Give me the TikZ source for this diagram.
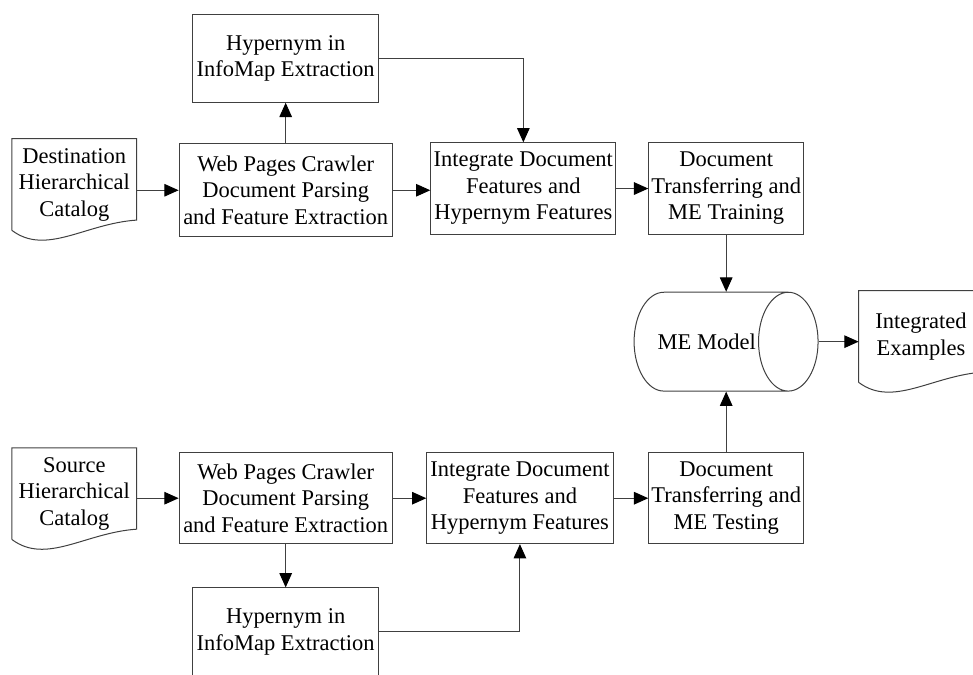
\documentclass[tikz,border=0pt]{standalone}
\usepackage{fontspec}
\setmainfont{Liberation Serif}
\usetikzlibrary{arrows.meta,calc,positioning,shapes.geometric}

\tikzset{
  box/.style={draw=black!75, line width=0.5pt, align=center, inner sep=1pt},
  docbox/.style={align=center, inner sep=1pt, minimum width=2.17cm, minimum height=1.59cm},
  arr/.style={draw=black!75, line width=0.5pt, -{Triangle[length=0.25cm,width=0.22cm,black]}},
}
% outline of a flowchart document symbol around a node
\newcommand{\docoutline}[1]{
  \draw[black!75, line width=0.5pt] (#1.south west) -- (#1.north west) -- (#1.north east) -- ([yshift=0.18cm]#1.south east)
    .. controls ([xshift=-0.9cm,yshift=0.12cm]#1.south east) and ([xshift=0.6cm,yshift=-0.45cm]#1.south west) .. (#1.south west);
}

\begin{document}
\begin{tikzpicture}[font=\fontsize{11.2}{13.2}\selectfont]
            \useasboundingbox (0,0) rectangle (17.03,-11.81);
            % upper row
            \node[docbox] (dest) at (1.30,-3.23) {Destination\\Hierarchical\\Catalog};
            \node[box, minimum width=3.73cm, minimum height=1.63cm] (w1) at (5.0,-3.33) {Web Pages Crawler\\Document Parsing\\and Feature Extraction};
            \node[box, minimum width=3.25cm, minimum height=1.54cm] (h1) at ($(w1)+(0,2.31)$) {Hypernym in\\InfoMap Extraction};
            \node[box, minimum width=3.24cm, minimum height=1.60cm] (i1) at (9.16,-3.30) {Integrate Document\\Features and\\Hypernym Features};
            \node[box, minimum width=2.71cm, minimum height=1.60cm] (t1) at (12.71,-3.30) {Document\\Transferring and\\ME Training};
            % model and output
            \node[box, cylinder, aspect=3.0, minimum width=1.73cm, minimum height=3.22cm] (cyl) at (12.37,-5.98) {ME Model};
            \node[docbox] (ex) at (16.12,-5.89) {Integrated\\Examples};
            % lower row
            \node[docbox] (src) at (1.30,-8.64) {Source\\Hierarchical\\Catalog};
            \node[box, minimum width=3.73cm, minimum height=1.59cm] (w2) at (5.0,-8.72) {Web Pages Crawler\\Document Parsing\\and Feature Extraction};
            \node[box, minimum width=3.25cm, minimum height=1.54cm] (h2) at ($(w2)+(0,-2.34)$) {Hypernym in\\InfoMap Extraction};
            \node[box, minimum width=3.26cm, minimum height=1.59cm] (i2) at (9.10,-8.72) {Integrate Document\\Features and\\Hypernym Features};
            \node[box, minimum width=2.71cm, minimum height=1.59cm] (t2) at (12.71,-8.71) {Document\\Transferring and\\ME Testing};
            \docoutline{dest}
            \docoutline{ex}
            \docoutline{src}
            \draw[arr] (dest.east |- w1.west) -- (w1.west);
            \draw[arr] (w1.north) -- (h1.south);
            \draw[arr] (h1.east) -| (i1.north);
            \draw[arr] (w1.east) -- (w1.east -| i1.west);
            \draw[arr] (i1.east) -- (t1.west);
            \draw[arr] (t1.south) -- (t1.south |- cyl.north);
            \draw[arr] (t2.north) -- (t2.north |- cyl.south);
            \draw[arr] (cyl.east) -- (cyl.east -| ex.west);
            \draw[arr] (src.east |- w2.west) -- (w2.west);
            \draw[arr] (w2.east) -- (i2.west);
            \draw[arr] (i2.east) -- (i2.east -| t2.west);
            \draw[arr] (w2.south) -- (h2.north);
            \draw[arr] (h2.east) -| (i2.south);
\end{tikzpicture}
\end{document}
